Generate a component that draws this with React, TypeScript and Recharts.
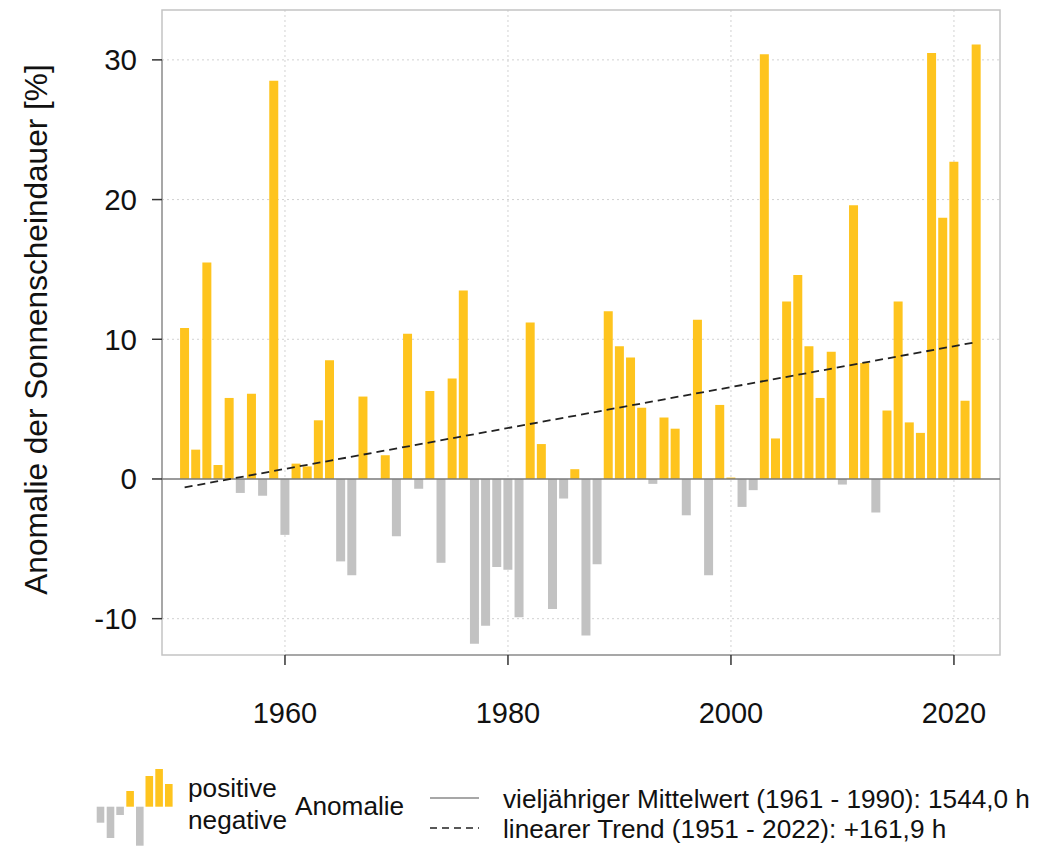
import {
  ComposedChart,
  Bar,
  Cell,
  Line,
  XAxis,
  YAxis,
  CartesianGrid,
  ReferenceLine,
  ReferenceArea,
} from "recharts";

const YEARS = [
  1951, 1952, 1953, 1954, 1955, 1956, 1957, 1958, 1959, 1960,
  1961, 1962, 1963, 1964, 1965, 1966, 1967, 1968, 1969, 1970,
  1971, 1972, 1973, 1974, 1975, 1976, 1977, 1978, 1979, 1980,
  1981, 1982, 1983, 1984, 1985, 1986, 1987, 1988, 1989, 1990,
  1991, 1992, 1993, 1994, 1995, 1996, 1997, 1998, 1999, 2000,
  2001, 2002, 2003, 2004, 2005, 2006, 2007, 2008, 2009, 2010,
  2011, 2012, 2013, 2014, 2015, 2016, 2017, 2018, 2019, 2020,
  2021, 2022,
];

// Anomalie der Sonnenscheindauer in %
const ANOMALY = [
  10.8, 2.1, 15.5, 1.0, 5.8, -1.0, 6.1, -1.2, 28.5, -4.0,
  1.1, 0.9, 4.2, 8.5, -5.9, -6.9, 5.9, 0, 1.7, -4.1,
  10.4, -0.7, 6.3, -6.0, 7.2, 13.5, -11.8, -10.5, -6.3, -6.5,
  -9.9, 11.2, 2.5, -9.3, -1.4, 0.7, -11.2, -6.1, 12.0, 9.5,
  8.7, 5.1, -0.35, 4.4, 3.6, -2.6, 11.4, -6.9, 5.3, 0.1,
  -2.0, -0.8, 30.4, 2.9, 12.7, 14.6, 9.5, 5.8, 9.1, -0.4,
  19.6, 8.3, -2.4, 4.9, 12.7, 4.05, 3.3, 30.5, 18.7, 22.7,
  5.6, 31.1,
];

// linear trend, end points only
const TREND_YEARS = [1951, 2022];
const TREND_VALUES = [-0.6, 9.8];

const X_TICKS = [1960, 1980, 2000, 2020];
const Y_TICKS = [-10, 0, 10, 20, 30];
const X_DOMAIN: [number, number] = [1948.97, 2024.13];
const Y_DOMAIN: [number, number] = [-12.6, 33.57];

const Y_LABEL = "Anomalie der Sonnenscheindauer [%]";
const LEGEND_POS = "positive";
const LEGEND_NEG = "negative";
const LEGEND_ANOM = "Anomalie";
const LEGEND_MEAN = "vieljähriger Mittelwert (1961 - 1990): 1544,0 h";
const LEGEND_TREND = "linearer Trend (1951 - 2022): +161,9 h";

const YELLOW = "#fec41e";
const GRAY = "#c2c2c2";
const FONT = '"Liberation Sans", Arial, Helvetica, sans-serif';
const TEXT = "#111";

const data = YEARS.map((year, i) => {
  const t = TREND_YEARS.indexOf(year);
  return {
    year,
    anomaly: ANOMALY[i],
    trend: t >= 0 ? TREND_VALUES[t] : null,
  };
});

function YLabel({ viewBox }: any) {
  const cy = viewBox.y + viewBox.height / 2;
  return (
    <text
      transform={`translate(47, ${cy - 3}) rotate(-90)`}
      textAnchor="middle"
      fontSize={31.6}
      fontFamily={FONT}
      fill={TEXT}
    >
      {Y_LABEL}
    </text>
  );
}

function LegendBlock() {
  const textStyle = { fontFamily: FONT, fontSize: 26.2, fill: TEXT };
  return (
    <svg
      width={1037}
      height={848}
      style={{ position: "absolute", left: 0, top: 0, pointerEvents: "none" }}
    >
      {/* mini bar icon */}
      <rect x={96.7} y={806.7} width={7.6} height={16} fill={GRAY} />
      <rect x={106.7} y={806.7} width={7.6} height={31.3} fill={GRAY} />
      <rect x={116.3} y={806.7} width={7.6} height={8.3} fill={GRAY} />
      <rect x={126.3} y={791} width={7.6} height={15.7} fill={YELLOW} />
      <rect x={136} y={806.7} width={7.6} height={39} fill={GRAY} />
      <rect x={145.5} y={776} width={7.6} height={30.7} fill={YELLOW} />
      <rect x={155.3} y={769} width={7.6} height={37.7} fill={YELLOW} />
      <rect x={165} y={784} width={7.6} height={22.7} fill={YELLOW} />

      <text x={188} y={797} {...textStyle}>{LEGEND_POS}</text>
      <text x={188} y={829} {...textStyle}>{LEGEND_NEG}</text>
      <text x={295} y={815} {...textStyle}>{LEGEND_ANOM}</text>

      <line x1={430} x2={479} y1={798} y2={798} stroke="#8a8a8a" strokeWidth={1.5} />
      <line
        x1={430}
        x2={479}
        y1={828}
        y2={828}
        stroke="#222"
        strokeWidth={1.5}
        strokeDasharray="7 5"
      />
      <text x={503} y={808} {...textStyle}>{LEGEND_MEAN}</text>
      <text x={503} y={838} {...textStyle}>{LEGEND_TREND}</text>
    </svg>
  );
}

export default function App() {
  return (
    <div
      style={{
        position: "absolute",
        left: 0,
        top: 0,
        width: 1037,
        height: 848,
        background: "#fff",
      }}
    >
      <ComposedChart
        width={1037}
        height={848}
        data={data}
        margin={{ top: 10, right: 37, bottom: 133, left: 0 }}
      >
        <CartesianGrid
          stroke="#d2d2d2"
          strokeDasharray="2 3"
          horizontalValues={[-10, 10, 20, 30]}
          verticalValues={X_TICKS}
        />
        <ReferenceArea
          x1={X_DOMAIN[0]}
          x2={X_DOMAIN[1]}
          y1={Y_DOMAIN[0]}
          y2={Y_DOMAIN[1]}
          fill="none"
          stroke="#c4c4c4"
          strokeWidth={1.5}
          ifOverflow="visible"
        />
        <XAxis
          type="number"
          dataKey="year"
          domain={X_DOMAIN}
          ticks={X_TICKS}
          allowDataOverflow
          interval={0}
          height={60}
          tickSize={10}
          tickMargin={37}
          axisLine={false}
          tickLine={{ stroke: "#333", strokeWidth: 1.5 }}
          tick={{ fill: TEXT, fontSize: 29, fontFamily: FONT }}
        />
        <YAxis
          type="number"
          domain={Y_DOMAIN}
          ticks={Y_TICKS}
          allowDataOverflow
          interval={0}
          width={162}
          tickSize={10}
          tickMargin={15}
          axisLine={false}
          tickLine={{ stroke: "#333", strokeWidth: 1.5 }}
          tick={{ fill: TEXT, fontSize: 29.5, fontFamily: FONT }}
          label={{ content: (p: any) => <YLabel {...p} /> }}
        />
        <ReferenceLine
          segment={[
            { x: 1960, y: Y_DOMAIN[0] },
            { x: 2020, y: Y_DOMAIN[0] },
          ]}
          stroke="#999"
          strokeWidth={1.5}
        />
        <ReferenceLine
          segment={[
            { x: X_DOMAIN[0], y: -10 },
            { x: X_DOMAIN[0], y: 30 },
          ]}
          stroke="#999"
          strokeWidth={1.5}
        />
        <Bar dataKey="anomaly" barSize={9} isAnimationActive={false}>
          {data.map((d) => (
            <Cell key={d.year} fill={d.anomaly >= 0 ? YELLOW : GRAY} />
          ))}
        </Bar>
        <ReferenceLine y={0} stroke="#7a7a7a" strokeWidth={1.5} />
        <Line
          type="linear"
          dataKey="trend"
          connectNulls
          stroke="#222"
          strokeWidth={1.8}
          strokeDasharray="8 5"
          dot={false}
          activeDot={false}
          isAnimationActive={false}
        />
      </ComposedChart>
      <LegendBlock />
    </div>
  );
}
